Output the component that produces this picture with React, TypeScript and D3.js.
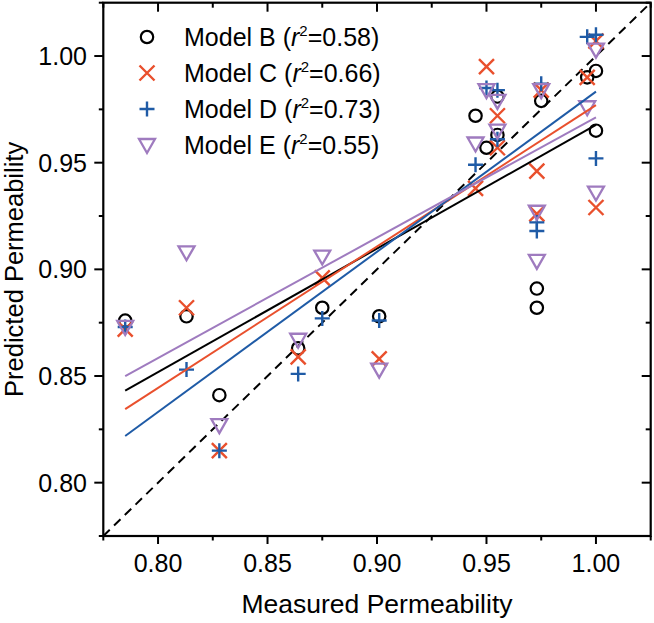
import React from "react";
import * as d3 from "d3";

// ---- data ----
const measured = [0.785, 0.813, 0.828, 0.864, 0.875, 0.901, 0.945, 0.95, 0.955, 0.955, 0.973, 0.973, 0.975, 0.996, 1.0, 1.0];
const predB = [0.876, 0.878, 0.841, 0.863, 0.882, 0.878, 0.972, 0.957, 0.981, 0.963, 0.891, 0.882, 0.979, 0.99, 0.993, 0.965];
const predC = [0.872, 0.882, 0.815, 0.859, 0.896, 0.858, 0.938, 0.995, 0.972, 0.957, 0.946, 0.926, 0.984, 0.99, 1.007, 0.929];
const predD = [0.873, 0.853, 0.815, 0.851, 0.877, 0.876, 0.949, 0.985, 0.984, 0.961, 0.922, 0.918, 0.987, 1.009, 1.01, 0.952];
const predE = [0.873, 0.908, 0.827, 0.867, 0.906, 0.853, 0.959, 0.984, 0.979, 0.965, 0.927, 0.904, 0.984, 0.976, 1.003, 0.936];

const modelNames = ["Model B", "Model C", "Model D", "Model E"];
const r2Labels = ["0.58", "0.66", "0.73", "0.55"];
// linear fit lines: from fitX[0] to fitX[1]
const fitX = [0.785, 1.0];
const fitB = [0.8431, 0.9677];
const fitC = [0.8345, 0.977];
const fitD = [0.8219, 0.9833];
const fitE = [0.85, 0.9713];

const majorTicks = [0.8, 0.85, 0.9, 0.95, 1.0];
const minorTicks = [0.775, 0.825, 0.875, 0.925, 0.975, 1.025];
const domain = [0.775, 1.025];

const colors = ["#000000", "#E9502D", "#1F5BA6", "#9F7BBF"];
const markers = ["circle", "x", "plus", "tri"];
const preds = [predB, predC, predD, predE];
const fits = [fitB, fitC, fitD, fitE];

const W = 654;
const H = 623;
const FONT = "'Liberation Sans', Arial, Helvetica, sans-serif";

function Marker({ type, color, cx, cy }: { type: string; color: string; cx: number; cy: number }) {
  if (type === "circle")
    return <circle cx={cx} cy={cy} r={6.2} fill="none" stroke={color} strokeWidth={2.2} />;
  if (type === "x")
    return (
      <path
        d={`M${cx - 7.5},${cy - 7.5}L${cx + 7.5},${cy + 7.5}M${cx - 7.5},${cy + 7.5}L${cx + 7.5},${cy - 7.5}`}
        stroke={color}
        strokeWidth={2.4}
        fill="none"
      />
    );
  if (type === "plus")
    return (
      <path
        d={`M${cx - 7.5},${cy}L${cx + 7.5},${cy}M${cx},${cy - 7.5}L${cx},${cy + 7.5}`}
        stroke={color}
        strokeWidth={2.4}
        fill="none"
      />
    );
  return (
    <path
      d={`M${cx - 8},${cy - 6}L${cx + 8},${cy - 6}L${cx},${cy + 8}Z`}
      stroke={color}
      strokeWidth={2.3}
      fill="none"
      strokeLinejoin="miter"
    />
  );
}

export default function App() {
  const x = d3.scaleLinear().domain(domain).range([103.3, 650.7]);
  const y = d3.scaleLinear().domain(domain).range([536, 2.7]);
  const x0 = x.range()[0];
  const x1 = x.range()[1];
  const y0 = y.range()[0];
  const y1 = y.range()[1];
  const line = d3.line<[number, number]>().x((d) => x(d[0])).y((d) => y(d[1]));

  return (
    <svg
      width={W}
      height={H}
      style={{ position: "absolute", left: 0, top: 0, background: "#fff" }}
      fontFamily={FONT}
    >
      <rect x={0} y={0} width={W} height={H} fill="#fff" />
      {/* identity dashed line */}
      <path
        d={line([[domain[0], domain[0]], [domain[1], domain[1]]])!}
        stroke="#000"
        strokeWidth={2}
        strokeDasharray="9 6"
        fill="none"
      />
      {/* markers */}
      {preds.map((p, si) =>
        p.map((v, i) => (
          <Marker key={`m${si}-${i}`} type={markers[si]} color={colors[si]} cx={x(measured[i])} cy={y(v)} />
        ))
      )}
      {/* fit lines */}
      {fits.map((f, si) => (
        <path
          key={`f${si}`}
          d={line([[fitX[0], f[0]], [fitX[1], f[1]]])!}
          stroke={colors[si]}
          strokeWidth={2}
          fill="none"
        />
      ))}
      {/* frame */}
      <rect x={x0} y={y1} width={x1 - x0} height={y0 - y1} fill="none" stroke="#000" strokeWidth={2.2} />
      {/* ticks */}
      {majorTicks.map((t) => (
        <g key={`mt${t}`} stroke="#000" strokeWidth={2}>
          <line x1={x(t)} x2={x(t)} y1={y0} y2={y0 + 8} />
          <line x1={x(t)} x2={x(t)} y1={y1} y2={y1 + 9} />
          <line x1={x0} x2={x0 - 9} y1={y(t)} y2={y(t)} />
          <line x1={x1} x2={x1 - 9} y1={y(t)} y2={y(t)} />
        </g>
      ))}
      {minorTicks.map((t) => (
        <g key={`nt${t}`} stroke="#000" strokeWidth={2}>
          <line x1={x(t)} x2={x(t)} y1={y0} y2={y0 + 4.5} />
          <line x1={x(t)} x2={x(t)} y1={y1} y2={y1 + 5} />
          <line x1={x0} x2={x0 - 4.5} y1={y(t)} y2={y(t)} />
          <line x1={x1} x2={x1 - 5} y1={y(t)} y2={y(t)} />
        </g>
      ))}
      {/* tick labels */}
      {majorTicks.map((t) => (
        <text key={`xl${t}`} x={x(t)} y={571.5} textAnchor="middle" fontSize={25} fill="#000">
          {d3.format(".2f")(t)}
        </text>
      ))}
      {majorTicks.map((t) => (
        <text key={`yl${t}`} x={87} y={y(t) + 9} textAnchor="end" fontSize={25} fill="#000">
          {d3.format(".2f")(t)}
        </text>
      ))}
      {/* axis titles */}
      <text x={377} y={613} textAnchor="middle" fontSize={26.5} fill="#000">
        Measured Permeability
      </text>
      <text
        transform={`translate(23,${(y0 + y1) / 2}) rotate(-90)`}
        textAnchor="middle"
        fontSize={25.5}
        fill="#000"
      >
        Predicted Permeability
      </text>
      {/* legend */}
      {modelNames.map((n, i) => {
        const ly = 37 + i * 36;
        return (
          <g key={`lg${i}`}>
            <Marker type={markers[i]} color={colors[i]} cx={147} cy={ly} />
            <text x={184} y={ly + 9} fontSize={25} fill="#000">
              <tspan>{n} (</tspan>
              <tspan fontStyle="italic">r</tspan>
              <tspan fontSize={15} dy={-10}>2</tspan>
              <tspan dy={10}>={r2Labels[i]})</tspan>
            </text>
          </g>
        );
      })}
    </svg>
  );
}
